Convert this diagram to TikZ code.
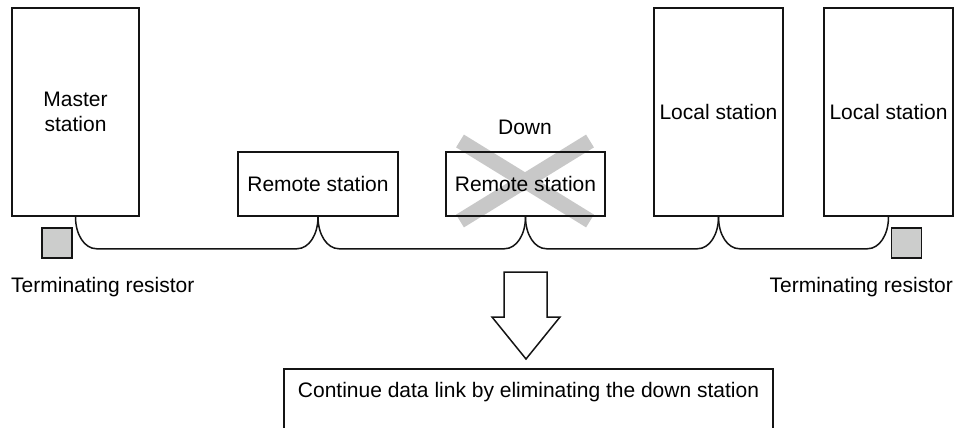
\documentclass[tikz,border=0pt]{standalone}
\usepackage{fontspec}
\setmainfont{Liberation Sans}
\usetikzlibrary{calc}
\definecolor{resgray}{RGB}{204,205,204}
\definecolor{xgray}{RGB}{200,200,200}
\definecolor{ink}{RGB}{20,20,20}
\begin{document}
\begin{tikzpicture}[x=1pt,y=-1pt,
  every node/.style={font=\fontsize{21}{25}\selectfont, text=black},
  stationbox/.style={draw=ink, line width=1.5pt, inner sep=0pt, text height=15pt, text depth=0pt},
  resbox/.style={draw=ink, fill=resgray, line width=1.5pt, inner sep=0pt, minimum size=30pt},
  txt/.style={inner sep=0pt, text height=15pt, text depth=0pt},
  cable/.style={draw=ink, line width=1.5pt},
  cross/.style={draw=xgray, line width=15pt},
  bigarrow/.style={draw=ink, line width=1.5pt, line join=miter}]
\clip (0,0) rectangle (964,428);
% gray cross behind the down station
\coordinate (xc) at (525,181);
\draw[cross] ($(xc)+(-65,-40)$) -- ($(xc)+(65,40)$);
\draw[cross] ($(xc)+(65,-40)$) -- ($(xc)+(-65,40)$);
% stations
\node[stationbox, minimum width=127pt, minimum height=208pt] (ms) at (75.5,112) {};
\node[inner sep=0pt, align=center] (mst) at (ms.center) {Master\\station};
\node[stationbox, minimum width=160pt, minimum height=64pt] (r1) at (318,184) {Remote station};
\node[stationbox, minimum width=159pt, minimum height=64pt] (r2) at (525.5,184) {Remote station};
\node[stationbox, minimum width=129pt, minimum height=208pt] (l1) at (718.5,112) {Local station};
\node[stationbox, minimum width=129pt, minimum height=208pt] (l2) at (888.5,112) {Local station};
\node[inner sep=0pt, anchor=base] (down) at (525,134) {Down};
% terminating resistors
\node[resbox] (t1) at (57,243) {};
\node[resbox] (t2) at (906.5,243) {};
\node[inner sep=0pt, anchor=base west] (t1l) at (11,292) {Terminating resistor};
\node[inner sep=0pt, anchor=base east] (t2l) at (953,292) {Terminating resistor};
% cables
\draw[cable] (ms.south) .. controls +(0,18) and +(-12,0) .. ($(ms.south)+(21,32)$)
  -- ($(r1.south)+(-21,32)$) .. controls +(12,0) and +(0,18) .. (r1.south);
\draw[cable] (r1.south) .. controls +(0,18) and +(-12,0) .. ($(r1.south)+(21,32)$)
  -- ($(r2.south)+(-21,32)$) .. controls +(12,0) and +(0,18) .. (r2.south);
\draw[cable] (r2.south) .. controls +(0,18) and +(-12,0) .. ($(r2.south)+(21,32)$)
  -- ($(l1.south)+(-21,32)$) .. controls +(12,0) and +(0,18) .. (l1.south);
\draw[cable] (l1.south) .. controls +(0,18) and +(-12,0) .. ($(l1.south)+(21,32)$)
  -- ($(l2.south)+(-21,32)$) .. controls +(12,0) and +(0,18) .. (l2.south);
% big arrow
\draw[bigarrow] (504,272) -- (547,272) -- (547,317) -- (560,317) -- (526,359)
  -- (492,317) -- (504,317) -- cycle;
% result box
\node[draw=ink, line width=1.5pt, inner sep=0pt, minimum width=489pt, minimum height=80pt] (res) at (528.5,409) {};
\node[txt] (rest) at (528.5,389.5) {Continue data link by eliminating the down station};
\end{tikzpicture}
\end{document}
